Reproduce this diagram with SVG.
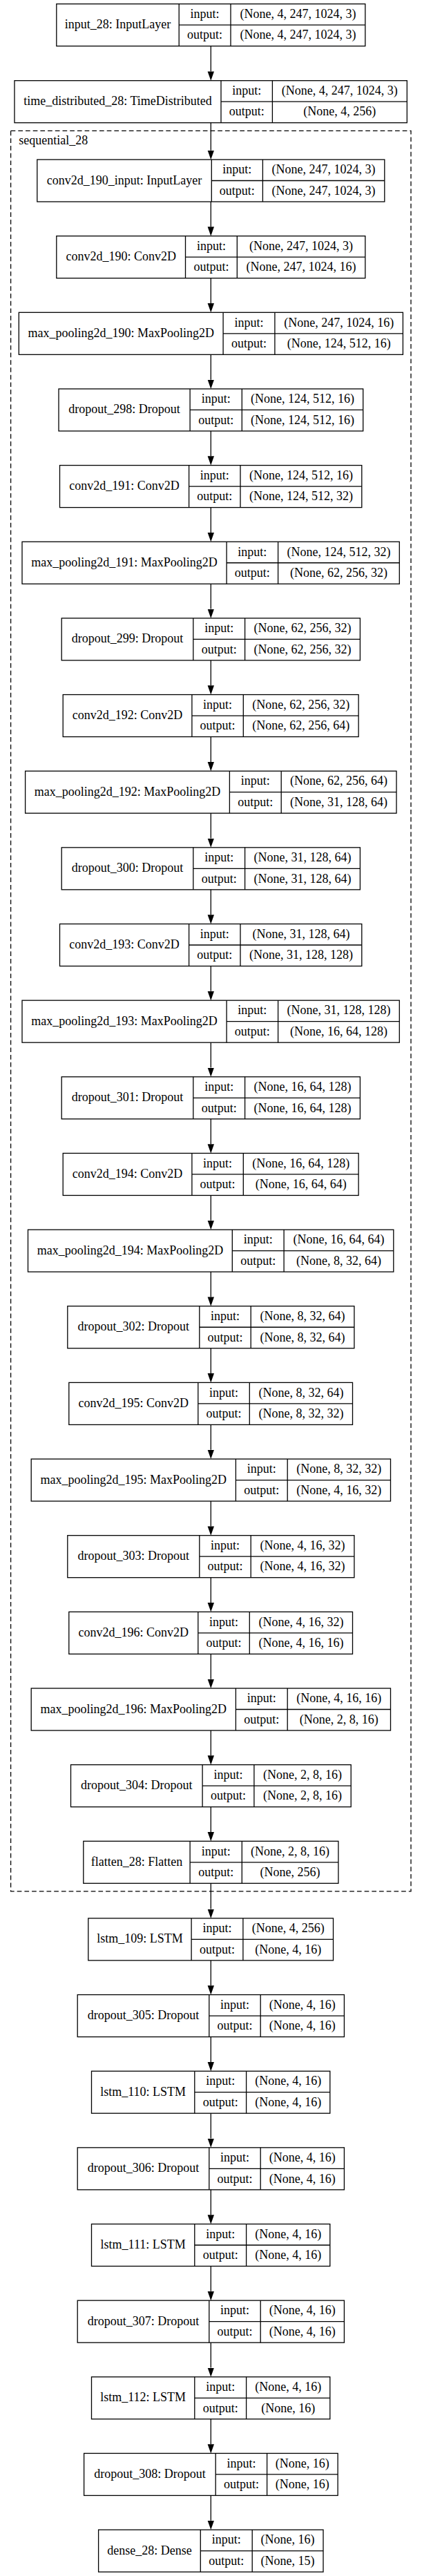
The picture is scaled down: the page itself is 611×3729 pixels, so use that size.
<svg xmlns="http://www.w3.org/2000/svg" width="611" height="3729" viewBox="0 0 611 3729">
<style>
.n rect,.n path{fill:none;stroke:#000;stroke-width:1.3}
text{font-family:"Liberation Serif","Times New Roman",serif;font-size:18px;text-anchor:middle;fill:#000}
.edges path{stroke:#000;stroke-width:1.3;fill:none;marker-end:url(#arr)}
</style>
<defs>
<marker id="arr" markerUnits="userSpaceOnUse" markerWidth="14" markerHeight="10" refX="0" refY="5" orient="auto" viewBox="0 0 14 10">
<path d="M0,0.3L13.3,5L0,9.7z" fill="#000"/>
</marker>
</defs>
<rect x="0" y="0" width="611" height="3729" fill="#fff"/>
<g id="cluster_sequential_28">
<rect x="15.6" y="189.3" width="579.4" height="2548.5" fill="none" stroke="#000" stroke-width="1.3" stroke-dasharray="6.7,4"/>
<text x="27.3" y="208.5" style="text-anchor:start">sequential_28</text>
</g>
<g class="edges" id="connectors">
<path d="M305.3,66.7V103.4"/>
<path d="M305.3,177.7V217.7"/>
<path d="M305.3,292V328.35"/>
<path d="M305.3,402.65V439"/>
<path d="M305.3,513.3V549.65"/>
<path d="M305.3,623.95V660.3"/>
<path d="M305.3,734.6V770.95"/>
<path d="M305.3,845.25V881.6"/>
<path d="M305.3,955.9V992.25"/>
<path d="M305.3,1066.55V1102.9"/>
<path d="M305.3,1177.2V1213.55"/>
<path d="M305.3,1287.85V1324.2"/>
<path d="M305.3,1398.5V1434.85"/>
<path d="M305.3,1509.15V1545.5"/>
<path d="M305.3,1619.8V1656.15"/>
<path d="M305.3,1730.45V1766.8"/>
<path d="M305.3,1841.1V1877.45"/>
<path d="M305.3,1951.75V1988.1"/>
<path d="M305.3,2062.4V2098.75"/>
<path d="M305.3,2173.05V2209.4"/>
<path d="M305.3,2283.7V2320.05"/>
<path d="M305.3,2394.35V2430.7"/>
<path d="M305.3,2505V2541.35"/>
<path d="M305.3,2615.65V2652"/>
<path d="M305.3,2726.3V2763.6"/>
<path d="M305.3,2837.9V2874.25"/>
<path d="M305.3,2948.55V2984.9"/>
<path d="M305.3,3059.2V3095.55"/>
<path d="M305.3,3169.85V3206.2"/>
<path d="M305.3,3280.5V3316.85"/>
<path d="M305.3,3391.15V3427.5"/>
<path d="M305.3,3501.8V3538.15"/>
<path d="M305.3,3612.45V3648.8"/>
</g>

<g class="n" id="input_28" transform="translate(0,5.7)">
<rect x="81.8" y="0" width="447" height="61"/>
<path d="M259.2,0V61M334,0V61M259.2,30.5H528.8"/>
<text x="170.5" y="35.5">input_28: InputLayer</text>
<text x="296.6" y="20.3">input:</text><text x="296.6" y="50.8">output:</text>
<text x="431.4" y="20.3">(None, 4, 247, 1024, 3)</text><text x="431.4" y="50.8">(None, 4, 247, 1024, 3)</text>
</g>

<g class="n" id="time_distributed_28" transform="translate(0,116.7)">
<rect x="21" y="0" width="568.3" height="61"/>
<path d="M320,0V61M394.4,0V61M320,30.5H589.3"/>
<text x="170.5" y="35.5">time_distributed_28: TimeDistributed</text>
<text x="357.2" y="20.3">input:</text><text x="357.2" y="50.8">output:</text>
<text x="491.85" y="20.3">(None, 4, 247, 1024, 3)</text><text x="491.85" y="50.8">(None, 4, 256)</text>
</g>

<g class="n" id="conv2d_190_input" transform="translate(0,231)">
<rect x="53.8" y="0" width="503" height="61"/>
<path d="M306.3,0V61M380.4,0V61M306.3,30.5H556.8"/>
<text x="180.05" y="35.5">conv2d_190_input: InputLayer</text>
<text x="343.35" y="20.3">input:</text><text x="343.35" y="50.8">output:</text>
<text x="468.6" y="20.3">(None, 247, 1024, 3)</text><text x="468.6" y="50.8">(None, 247, 1024, 3)</text>
</g>

<g class="n" id="conv2d_190" transform="translate(0,341.65)">
<rect x="81.8" y="0" width="447" height="61"/>
<path d="M268.5,0V61M343.3,0V61M268.5,30.5H528.8"/>
<text x="175.15" y="35.5">conv2d_190: Conv2D</text>
<text x="305.9" y="20.3">input:</text><text x="305.9" y="50.8">output:</text>
<text x="436.05" y="20.3">(None, 247, 1024, 3)</text><text x="436.05" y="50.8">(None, 247, 1024, 16)</text>
</g>

<g class="n" id="max_pooling2d_190" transform="translate(0,452.3)">
<rect x="27.3" y="0" width="556.1" height="61"/>
<path d="M323.1,0V61M397.9,0V61M323.1,30.5H583.4"/>
<text x="175.2" y="35.5">max_pooling2d_190: MaxPooling2D</text>
<text x="360.5" y="20.3">input:</text><text x="360.5" y="50.8">output:</text>
<text x="490.65" y="20.3">(None, 247, 1024, 16)</text><text x="490.65" y="50.8">(None, 124, 512, 16)</text>
</g>

<g class="n" id="dropout_298" transform="translate(0,562.95)">
<rect x="85" y="0" width="440.7" height="61"/>
<path d="M275.1,0V61M350.3,0V61M275.1,30.5H525.7"/>
<text x="180.05" y="35.5">dropout_298: Dropout</text>
<text x="312.7" y="20.3">input:</text><text x="312.7" y="50.8">output:</text>
<text x="438" y="20.3">(None, 124, 512, 16)</text><text x="438" y="50.8">(None, 124, 512, 16)</text>
</g>

<g class="n" id="conv2d_191" transform="translate(0,673.6)">
<rect x="86.5" y="0" width="437.3" height="61"/>
<path d="M273.6,0V61M348,0V61M273.6,30.5H523.8"/>
<text x="180.05" y="35.5">conv2d_191: Conv2D</text>
<text x="310.8" y="20.3">input:</text><text x="310.8" y="50.8">output:</text>
<text x="435.9" y="20.3">(None, 124, 512, 16)</text><text x="435.9" y="50.8">(None, 124, 512, 32)</text>
</g>

<g class="n" id="max_pooling2d_191" transform="translate(0,784.25)">
<rect x="32" y="0" width="546.3" height="61"/>
<path d="M328.1,0V61M402.6,0V61M328.1,30.5H578.3"/>
<text x="180.05" y="35.5">max_pooling2d_191: MaxPooling2D</text>
<text x="365.35" y="20.3">input:</text><text x="365.35" y="50.8">output:</text>
<text x="490.45" y="20.3">(None, 124, 512, 32)</text><text x="490.45" y="50.8">(None, 62, 256, 32)</text>
</g>

<g class="n" id="dropout_299" transform="translate(0,894.9)">
<rect x="89.2" y="0" width="432.2" height="61"/>
<path d="M279.8,0V61M354.6,0V61M279.8,30.5H521.4"/>
<text x="184.5" y="35.5">dropout_299: Dropout</text>
<text x="317.2" y="20.3">input:</text><text x="317.2" y="50.8">output:</text>
<text x="438" y="20.3">(None, 62, 256, 32)</text><text x="438" y="50.8">(None, 62, 256, 32)</text>
</g>

<g class="n" id="conv2d_192" transform="translate(0,1005.55)">
<rect x="91.2" y="0" width="427.9" height="61"/>
<path d="M277.9,0V61M352.3,0V61M277.9,30.5H519.1"/>
<text x="184.55" y="35.5">conv2d_192: Conv2D</text>
<text x="315.1" y="20.3">input:</text><text x="315.1" y="50.8">output:</text>
<text x="435.7" y="20.3">(None, 62, 256, 32)</text><text x="435.7" y="50.8">(None, 62, 256, 64)</text>
</g>

<g class="n" id="max_pooling2d_192" transform="translate(0,1116.2)">
<rect x="36.6" y="0" width="537.4" height="61"/>
<path d="M332.4,0V61M407.2,0V61M332.4,30.5H574"/>
<text x="184.5" y="35.5">max_pooling2d_192: MaxPooling2D</text>
<text x="369.8" y="20.3">input:</text><text x="369.8" y="50.8">output:</text>
<text x="490.6" y="20.3">(None, 62, 256, 64)</text><text x="490.6" y="50.8">(None, 31, 128, 64)</text>
</g>

<g class="n" id="dropout_300" transform="translate(0,1226.85)">
<rect x="89.2" y="0" width="432.2" height="61"/>
<path d="M279.8,0V61M354.6,0V61M279.8,30.5H521.4"/>
<text x="184.5" y="35.5">dropout_300: Dropout</text>
<text x="317.2" y="20.3">input:</text><text x="317.2" y="50.8">output:</text>
<text x="438" y="20.3">(None, 31, 128, 64)</text><text x="438" y="50.8">(None, 31, 128, 64)</text>
</g>

<g class="n" id="conv2d_193" transform="translate(0,1337.5)">
<rect x="86.5" y="0" width="437.3" height="61"/>
<path d="M273.6,0V61M348,0V61M273.6,30.5H523.8"/>
<text x="180.05" y="35.5">conv2d_193: Conv2D</text>
<text x="310.8" y="20.3">input:</text><text x="310.8" y="50.8">output:</text>
<text x="435.9" y="20.3">(None, 31, 128, 64)</text><text x="435.9" y="50.8">(None, 31, 128, 128)</text>
</g>

<g class="n" id="max_pooling2d_193" transform="translate(0,1448.15)">
<rect x="32" y="0" width="546.3" height="61"/>
<path d="M328.1,0V61M402.6,0V61M328.1,30.5H578.3"/>
<text x="180.05" y="35.5">max_pooling2d_193: MaxPooling2D</text>
<text x="365.35" y="20.3">input:</text><text x="365.35" y="50.8">output:</text>
<text x="490.45" y="20.3">(None, 31, 128, 128)</text><text x="490.45" y="50.8">(None, 16, 64, 128)</text>
</g>

<g class="n" id="dropout_301" transform="translate(0,1558.8)">
<rect x="89.2" y="0" width="432.2" height="61"/>
<path d="M279.8,0V61M354.6,0V61M279.8,30.5H521.4"/>
<text x="184.5" y="35.5">dropout_301: Dropout</text>
<text x="317.2" y="20.3">input:</text><text x="317.2" y="50.8">output:</text>
<text x="438" y="20.3">(None, 16, 64, 128)</text><text x="438" y="50.8">(None, 16, 64, 128)</text>
</g>

<g class="n" id="conv2d_194" transform="translate(0,1669.45)">
<rect x="91.2" y="0" width="427.9" height="61"/>
<path d="M277.9,0V61M352.3,0V61M277.9,30.5H519.1"/>
<text x="184.55" y="35.5">conv2d_194: Conv2D</text>
<text x="315.1" y="20.3">input:</text><text x="315.1" y="50.8">output:</text>
<text x="435.7" y="20.3">(None, 16, 64, 128)</text><text x="435.7" y="50.8">(None, 16, 64, 64)</text>
</g>

<g class="n" id="max_pooling2d_194" transform="translate(0,1780.1)">
<rect x="40.5" y="0" width="529.3" height="61"/>
<path d="M336.3,0V61M411.1,0V61M336.3,30.5H569.8"/>
<text x="188.4" y="35.5">max_pooling2d_194: MaxPooling2D</text>
<text x="373.7" y="20.3">input:</text><text x="373.7" y="50.8">output:</text>
<text x="490.45" y="20.3">(None, 16, 64, 64)</text><text x="490.45" y="50.8">(None, 8, 32, 64)</text>
</g>

<g class="n" id="dropout_302" transform="translate(0,1890.75)">
<rect x="97.8" y="0" width="415.1" height="61"/>
<path d="M288.8,0V61M363.2,0V61M288.8,30.5H512.9"/>
<text x="193.3" y="35.5">dropout_302: Dropout</text>
<text x="326" y="20.3">input:</text><text x="326" y="50.8">output:</text>
<text x="438.05" y="20.3">(None, 8, 32, 64)</text><text x="438.05" y="50.8">(None, 8, 32, 64)</text>
</g>

<g class="n" id="conv2d_195" transform="translate(0,2001.4)">
<rect x="99.8" y="0" width="410.7" height="61"/>
<path d="M286.8,0V61M361.3,0V61M286.8,30.5H510.5"/>
<text x="193.3" y="35.5">conv2d_195: Conv2D</text>
<text x="324.05" y="20.3">input:</text><text x="324.05" y="50.8">output:</text>
<text x="435.9" y="20.3">(None, 8, 32, 64)</text><text x="435.9" y="50.8">(None, 8, 32, 32)</text>
</g>

<g class="n" id="max_pooling2d_195" transform="translate(0,2112.05)">
<rect x="45.2" y="0" width="520.3" height="61"/>
<path d="M341.4,0V61M416.2,0V61M341.4,30.5H565.5"/>
<text x="193.3" y="35.5">max_pooling2d_195: MaxPooling2D</text>
<text x="378.8" y="20.3">input:</text><text x="378.8" y="50.8">output:</text>
<text x="490.85" y="20.3">(None, 8, 32, 32)</text><text x="490.85" y="50.8">(None, 4, 16, 32)</text>
</g>

<g class="n" id="dropout_303" transform="translate(0,2222.7)">
<rect x="97.8" y="0" width="415.1" height="61"/>
<path d="M288.8,0V61M363.2,0V61M288.8,30.5H512.9"/>
<text x="193.3" y="35.5">dropout_303: Dropout</text>
<text x="326" y="20.3">input:</text><text x="326" y="50.8">output:</text>
<text x="438.05" y="20.3">(None, 4, 16, 32)</text><text x="438.05" y="50.8">(None, 4, 16, 32)</text>
</g>

<g class="n" id="conv2d_196" transform="translate(0,2333.35)">
<rect x="99.8" y="0" width="410.7" height="61"/>
<path d="M286.8,0V61M361.3,0V61M286.8,30.5H510.5"/>
<text x="193.3" y="35.5">conv2d_196: Conv2D</text>
<text x="324.05" y="20.3">input:</text><text x="324.05" y="50.8">output:</text>
<text x="435.9" y="20.3">(None, 4, 16, 32)</text><text x="435.9" y="50.8">(None, 4, 16, 16)</text>
</g>

<g class="n" id="max_pooling2d_196" transform="translate(0,2444)">
<rect x="45.2" y="0" width="520.3" height="61"/>
<path d="M341.4,0V61M416.2,0V61M341.4,30.5H565.5"/>
<text x="193.3" y="35.5">max_pooling2d_196: MaxPooling2D</text>
<text x="378.8" y="20.3">input:</text><text x="378.8" y="50.8">output:</text>
<text x="490.85" y="20.3">(None, 4, 16, 16)</text><text x="490.85" y="50.8">(None, 2, 8, 16)</text>
</g>

<g class="n" id="dropout_304" transform="translate(0,2554.65)">
<rect x="102.5" y="0" width="405.7" height="61"/>
<path d="M293.1,0V61M367.9,0V61M293.1,30.5H508.2"/>
<text x="197.8" y="35.5">dropout_304: Dropout</text>
<text x="330.5" y="20.3">input:</text><text x="330.5" y="50.8">output:</text>
<text x="438.05" y="20.3">(None, 2, 8, 16)</text><text x="438.05" y="50.8">(None, 2, 8, 16)</text>
</g>

<g class="n" id="flatten_28" transform="translate(0,2665.3)">
<rect x="120.8" y="0" width="369.1" height="61"/>
<path d="M275.1,0V61M350.3,0V61M275.1,30.5H489.9"/>
<text x="197.95" y="35.5">flatten_28: Flatten</text>
<text x="312.7" y="20.3">input:</text><text x="312.7" y="50.8">output:</text>
<text x="420.1" y="20.3">(None, 2, 8, 16)</text><text x="420.1" y="50.8">(None, 256)</text>
</g>

<g class="n" id="lstm_109" transform="translate(0,2776.9)">
<rect x="127.8" y="0" width="354.7" height="61"/>
<path d="M277.1,0V61M351.9,0V61M277.1,30.5H482.5"/>
<text x="202.45" y="35.5">lstm_109: LSTM</text>
<text x="314.5" y="20.3">input:</text><text x="314.5" y="50.8">output:</text>
<text x="417.2" y="20.3">(None, 4, 256)</text><text x="417.2" y="50.8">(None, 4, 16)</text>
</g>

<g class="n" id="dropout_305" transform="translate(0,2887.55)">
<rect x="112.2" y="0" width="386.2" height="61"/>
<path d="M302.8,0V61M377.2,0V61M302.8,30.5H498.4"/>
<text x="207.5" y="35.5">dropout_305: Dropout</text>
<text x="340" y="20.3">input:</text><text x="340" y="50.8">output:</text>
<text x="437.8" y="20.3">(None, 4, 16)</text><text x="437.8" y="50.8">(None, 4, 16)</text>
</g>

<g class="n" id="lstm_110" transform="translate(0,2998.2)">
<rect x="132.5" y="0" width="345.3" height="61"/>
<path d="M281.8,0V61M356.6,0V61M281.8,30.5H477.8"/>
<text x="207.15" y="35.5">lstm_110: LSTM</text>
<text x="319.2" y="20.3">input:</text><text x="319.2" y="50.8">output:</text>
<text x="417.2" y="20.3">(None, 4, 16)</text><text x="417.2" y="50.8">(None, 4, 16)</text>
</g>

<g class="n" id="dropout_306" transform="translate(0,3108.85)">
<rect x="112.2" y="0" width="386.2" height="61"/>
<path d="M302.8,0V61M377.2,0V61M302.8,30.5H498.4"/>
<text x="207.5" y="35.5">dropout_306: Dropout</text>
<text x="340" y="20.3">input:</text><text x="340" y="50.8">output:</text>
<text x="437.8" y="20.3">(None, 4, 16)</text><text x="437.8" y="50.8">(None, 4, 16)</text>
</g>

<g class="n" id="lstm_111" transform="translate(0,3219.5)">
<rect x="132.5" y="0" width="345.3" height="61"/>
<path d="M281.8,0V61M356.6,0V61M281.8,30.5H477.8"/>
<text x="207.15" y="35.5">lstm_111: LSTM</text>
<text x="319.2" y="20.3">input:</text><text x="319.2" y="50.8">output:</text>
<text x="417.2" y="20.3">(None, 4, 16)</text><text x="417.2" y="50.8">(None, 4, 16)</text>
</g>

<g class="n" id="dropout_307" transform="translate(0,3330.15)">
<rect x="112.2" y="0" width="386.2" height="61"/>
<path d="M302.8,0V61M377.2,0V61M302.8,30.5H498.4"/>
<text x="207.5" y="35.5">dropout_307: Dropout</text>
<text x="340" y="20.3">input:</text><text x="340" y="50.8">output:</text>
<text x="437.8" y="20.3">(None, 4, 16)</text><text x="437.8" y="50.8">(None, 4, 16)</text>
</g>

<g class="n" id="lstm_112" transform="translate(0,3440.8)">
<rect x="132.5" y="0" width="345.3" height="61"/>
<path d="M281.8,0V61M356.6,0V61M281.8,30.5H477.8"/>
<text x="207.15" y="35.5">lstm_112: LSTM</text>
<text x="319.2" y="20.3">input:</text><text x="319.2" y="50.8">output:</text>
<text x="417.2" y="20.3">(None, 4, 16)</text><text x="417.2" y="50.8">(None, 16)</text>
</g>

<g class="n" id="dropout_308" transform="translate(0,3551.45)">
<rect x="121.6" y="0" width="367.5" height="61"/>
<path d="M312.2,0V61M386.6,0V61M312.2,30.5H489.1"/>
<text x="216.9" y="35.5">dropout_308: Dropout</text>
<text x="349.4" y="20.3">input:</text><text x="349.4" y="50.8">output:</text>
<text x="437.85" y="20.3">(None, 16)</text><text x="437.85" y="50.8">(None, 16)</text>
</g>

<g class="n" id="dense_28" transform="translate(0,3662.1)">
<rect x="142.6" y="0" width="325.4" height="61"/>
<path d="M290.3,0V61M365.2,0V61M290.3,30.5H468"/>
<text x="216.45" y="35.5">dense_28: Dense</text>
<text x="327.75" y="20.3">input:</text><text x="327.75" y="50.8">output:</text>
<text x="416.6" y="20.3">(None, 16)</text><text x="416.6" y="50.8">(None, 15)</text>
</g>
</svg>
